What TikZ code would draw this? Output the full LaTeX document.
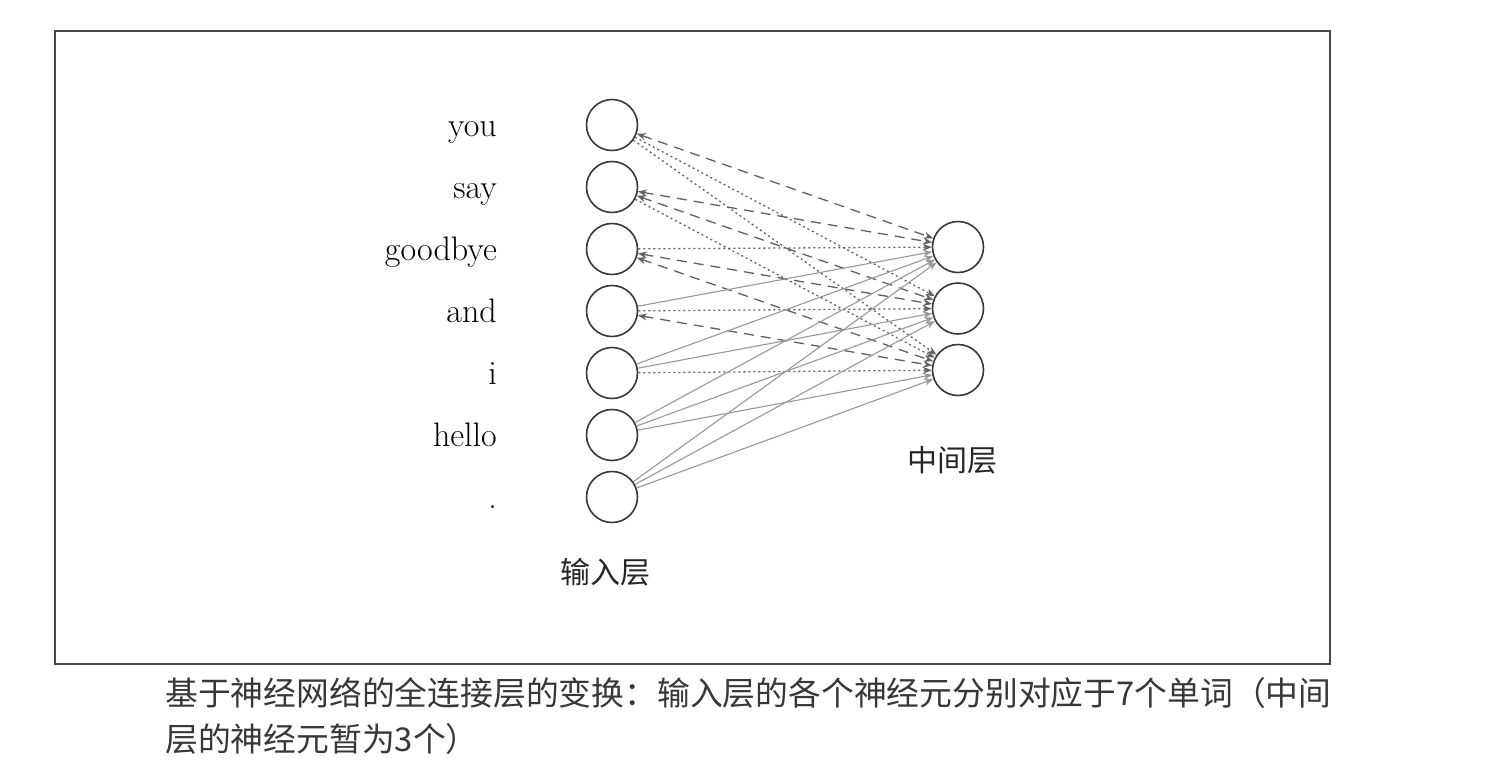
\documentclass[tikz,border=0pt]{standalone}
\usepackage{fontspec}
\newfontfamily\cjk{Noto Sans CJK SC}
\usetikzlibrary{arrows.meta}
\begin{document}
\begin{tikzpicture}[x=1pt,y=-1pt,
  neuron/.style={circle,draw=black!78,line width=1.6pt,minimum size=51pt,inner sep=0pt},
  word/.style={anchor=base east,inner sep=0pt,text=black,font=\fontsize{34}{34}\selectfont},
  layerlabel/.style={inner sep=0pt,text=black!85,font=\cjk\fontsize{30}{30}\selectfont},
  caption/.style={anchor=west,inner sep=0pt,text=black!78,font=\cjk\fontsize{32.8}{32.8}\selectfont},
  tipA/.tip={Stealth[length=9pt,width=7pt]},
  conn/.style={line width=1.3pt},
  dashconn/.style={conn,draw=black!62,dash pattern=on 10pt off 7pt,tipA-tipA},
  dotconn/.style={conn,draw=black!62,dash pattern=on 2pt off 3pt,-tipA},
  grayconn/.style={conn,line width=1.1pt,draw=black!40,-tipA},
  frame/.style={draw=black!72,line width=1.6pt}
]
\fill[white] (0,0) rectangle (1492,780);
\useasboundingbox (0,0) rectangle (1492,780);
\draw[frame] (55,31) rectangle (1330,664);

% input layer
\foreach \w [count=\k] in {you,say,goodbye,and,i,hello,.}{
  \pgfmathsetmacro\cy{125+62*(\k-1)}
  \node[neuron] (in\k) at (612,\cy) {};
  \node[word] (w\k) at (497,\cy+11) {\w};
}
% hidden layer
\foreach \j in {1,2,3}{
  \pgfmathsetmacro\cy{247+61.5*(\j-1)}
  \node[neuron] (h\j) at (958,\cy) {};
}

\node[layerlabel] (inlabel) at (605,572) {输入层};
\node[layerlabel] (hlabel) at (952,460) {中间层};

% connections
\foreach \r in {1,...,7}{
  \foreach \j in {1,2,3}{
    \pgfmathtruncatemacro\d{\j+2-\r}
    \ifnum\d<0
      \draw[grayconn] (in\r) -- (h\j);
    \else\ifnum\d=0
      \draw[dotconn] (in\r) -- (h\j);
    \else\ifnum\d<3
      \draw[dashconn] (in\r) -- (h\j);
    \else
      \draw[dotconn] (in\r) -- (h\j);
    \fi\fi\fi
  }
}

\node[caption] (cap1) at (165,693) {基于神经网络的全连接层的变换：输入层的各个神经元分别对应于7个单词（中间};
\node[caption] (cap2) at (165,739) {层的神经元暂为3个）};
\end{tikzpicture}
\end{document}
